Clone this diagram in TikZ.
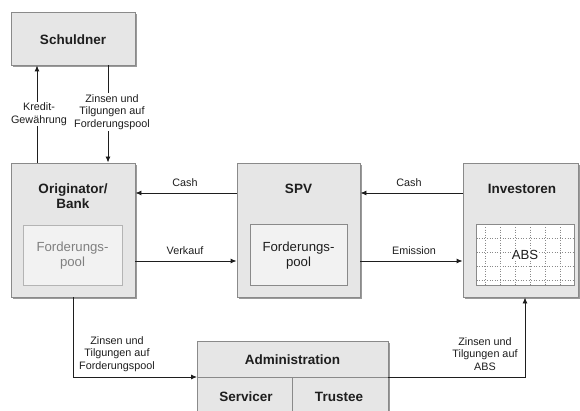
\documentclass[tikz,border=0pt]{standalone}
\usepackage{fontspec}
\setmainfont{Liberation Sans}
\usetikzlibrary{shadows,arrows.meta}
\definecolor{boxgray}{HTML}{E6E6E6}
\definecolor{bordergray}{HTML}{8A8A8A}
\definecolor{shadowgray}{HTML}{9A9A9A}
\definecolor{innerfill}{HTML}{F2F2F2}
\definecolor{innerdraw}{HTML}{B4B4B4}
\definecolor{txt}{HTML}{1E1E1E}
\begin{document}
\begin{tikzpicture}[x=1pt,y=-1pt,
  bigbox/.style={draw=bordergray, fill=boxgray, line width=0.9pt, inner sep=0pt,
    drop shadow={shadow xshift=1.8pt, shadow yshift=-1.8pt, fill=shadowgray, opacity=1}},
  innerbox/.style={draw=innerdraw, fill=innerfill, line width=0.8pt, inner sep=0pt},
  title/.style={font=\fontsize{13.5}{14.5}\selectfont\bfseries, text=txt, align=center},
  innertxt/.style={font=\fontsize{13.2}{14.5}\selectfont, align=center},
  lbl/.style={font=\fontsize{10.8}{12.5}\selectfont, text=txt, align=center, fill=white, inner sep=1pt},
  slbl/.style={font=\fontsize{10.8}{12.5}\selectfont, text=txt},
  arr/.style={draw=txt, line width=0.9pt, -{Latex[length=6pt,width=5pt]}},
  ln/.style={draw=txt, line width=0.9pt}]
\clip (0,0) rectangle (580,411);
\fill[white] (0,0) rectangle (580,411);

% boxes
\node[bigbox, minimum width=124pt, minimum height=53pt] (schuldner) at (73,38.5) {};
\node[title] (schuldnerT) at (73,40) {Schuldner};

\node[bigbox, minimum width=124pt, minimum height=134pt] (orig) at (73,230) {};
\node[title] (origT) at (73,196) {Originator/\\Bank};
\node[innerbox, minimum width=99pt, minimum height=60pt] (origpool) at (72.5,255) {};
\node[innertxt, text=gray] (origpoolT) at (72.5,255.5) {Forderungs-\\pool};

\node[bigbox, minimum width=123pt, minimum height=134pt] (spv) at (298.5,230) {};
\node[title] (spvT) at (298.5,189) {SPV};
\node[innerbox, draw=bordergray, minimum width=97pt, minimum height=61pt] (spvpool) at (298.5,254.5) {};
\node[innertxt, text=txt] (spvpoolT) at (298.5,255.5) {Forderungs-\\pool};

\node[bigbox, minimum width=115pt, minimum height=134pt] (inv) at (520.5,230) {};
\node[title] (invT) at (522,189) {Investoren};
\node[innerbox, draw=bordergray, fill=white, minimum width=98pt, minimum height=61pt] (abs) at (525,254.5) {};
\foreach \gx in {485,500,515,530,545,560} \draw[bordergray, dotted, line width=0.6pt] (\gx,224.5) -- (\gx,284.5);
\foreach \gy in {238,252,266,280} \draw[bordergray, dotted, line width=0.6pt] (476.5,\gy) -- (573.5,\gy);
\node[innertxt, text=txt, fill=white, inner sep=1pt] (absT) at (525,255) {ABS};

\node[bigbox, minimum width=191pt, minimum height=100pt] (admin) at (292.5,391) {};
\node[title] (adminT) at (292.5,360) {Administration};
\coordinate (adminL) at (197,377);
\coordinate (adminR) at (388,377);
\draw[bordergray, line width=0.9pt] (adminL) -- (adminR);
\draw[bordergray, line width=0.9pt] (292,377) -- (292,441);
\node[title] (servicerT) at (246,397) {Servicer};
\node[title] (trusteeT) at (339,397) {Trustee};

% top arrows
\draw[arr] (orig.north -| 37,0) -- (schuldner.south -| 37,0);
\node[lbl] (kreditL) at (39,114) {Kredit-\\Gewährung};
\draw[arr] (schuldner.south -| 108,0) -- (orig.north -| 108,0);
\node[lbl] (zinsL1) at (112,112) {Zinsen und\\Tilgungen auf\\Forderungspool};

% middle arrows
\draw[arr] (spv.west |- 0,193) -- (orig.east |- 0,193);
\node[slbl] (cash1) at (185,183) {Cash};
\draw[arr] (orig.east |- 0,261) -- (spv.west |- 0,261);
\node[slbl] (verkauf) at (185,251) {Verkauf};
\draw[arr] (inv.west |- 0,193) -- (spv.east |- 0,193);
\node[slbl] (cash2) at (409,183) {Cash};
\draw[arr] (spv.east |- 0,261) -- (inv.west |- 0,261);
\node[slbl] (emission) at (414,251) {Emission};

% bottom arrows
\draw[arr] (orig.south -| 73,0) -- (73,377) -- (adminL);
\node[lbl, fill=none] (zinsL2) at (117,354) {Zinsen und\\Tilgungen auf\\Forderungspool};
\draw[arr] (adminR) -- (525,377) -- (inv.south -| 525,0);
\node[lbl, fill=none] (zinsL3) at (485,354) {Zinsen und\\Tilgungen auf\\ABS};
\end{tikzpicture}
\end{document}
